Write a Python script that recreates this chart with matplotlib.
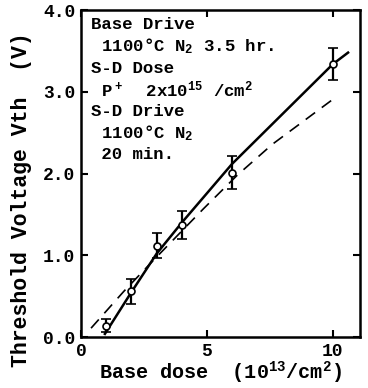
#!/usr/bin/env python3
"""Threshold voltage vs base dose, redrawn from a scanned figure."""

import matplotlib
matplotlib.use("Agg")
import matplotlib.pyplot as plt

# measured points (base dose, Vth, error bar half height)
dose = [1, 2, 3, 4, 6, 10]
vth = [0.14, 0.56, 1.12, 1.37, 2.01, 3.34]
vth_err = [0.08, 0.15, 0.15, 0.17, 0.20, 0.20]

# solid curve (experimental fit)
fit_x = [0.95, 2.0, 3.0, 4.0, 6.0, 10.0, 10.6]
fit_y = [0.04, 0.55, 1.02, 1.40, 2.12, 3.34, 3.48]

# dashed curve (calculated)
calc_x = [0.4, 1.7, 3.0, 4.86, 6.2, 7.6, 9.96]
calc_y = [0.11, 0.56, 0.98, 1.57, 1.98, 2.36, 2.90]

xticks = [0, 5, 10]
yticks = [0.0, 1.0, 2.0, 3.0, 4.0]

notes = [
    "Base Drive",
    " 1100\u00b0C N$_2$ 3.5 hr.",
    "S-D Dose",
    " P$^+$  2x10$^{15}$ /cm$^2$",
    "S-D Drive",
    " 1100\u00b0C N$_2$",
    " 20 min.",
]

plt.rcParams['font.family'] = ['Liberation Mono', 'DejaVu Sans Mono']
plt.rcParams['font.weight'] = 'bold'
plt.rcParams['axes.labelweight'] = 'bold'
plt.rcParams['mathtext.default'] = 'regular'

fig = plt.figure(figsize=(3.68, 3.88), dpi=100)
ax = fig.add_axes([0.22, 0.131, 0.758, 0.843])

ax.plot(fit_x, fit_y, color='black', lw=1.8)
ax.plot(calc_x, calc_y, color='black', lw=1.2, dashes=(7, 5))
ax.errorbar(dose, vth, yerr=vth_err, fmt='o', ms=5, mfc='white',
            mec='black', mew=1.2, ecolor='black', elinewidth=1.6,
            capsize=3.8, capthick=1.8, zorder=3)

ax.set_xlim(0, 11.07)
ax.set_ylim(0, 4.0)
ax.set_xticks(xticks)
ax.set_xticklabels([str(t) for t in xticks])
ax.set_yticks(yticks)
ax.set_yticklabels([f"{t:.1f}" for t in yticks])
ax.tick_params(direction='in', length=5, width=1.5, labelsize=13,
               top=True, right=True, pad=4)
for s in ax.spines.values():
    s.set_linewidth(1.8)

ax.set_xlabel("Base dose  (10$^{13}$/cm$^2$)", fontsize=14.5, labelpad=0)
ax.set_ylabel("Threshold Voltage Vth  (V)", fontsize=15.5)
ax.yaxis.set_label_coords(-0.175, 0.42)

# annotation block, one line at a time
for i, line in enumerate(notes):
    ax.annotate(line, xy=(0.035, 0.955), xycoords='axes fraction',
                xytext=(0, -15.6 * i), textcoords='offset points',
                fontsize=12.5, va='center', ha='left')

fig.savefig("out.png", dpi=100)
